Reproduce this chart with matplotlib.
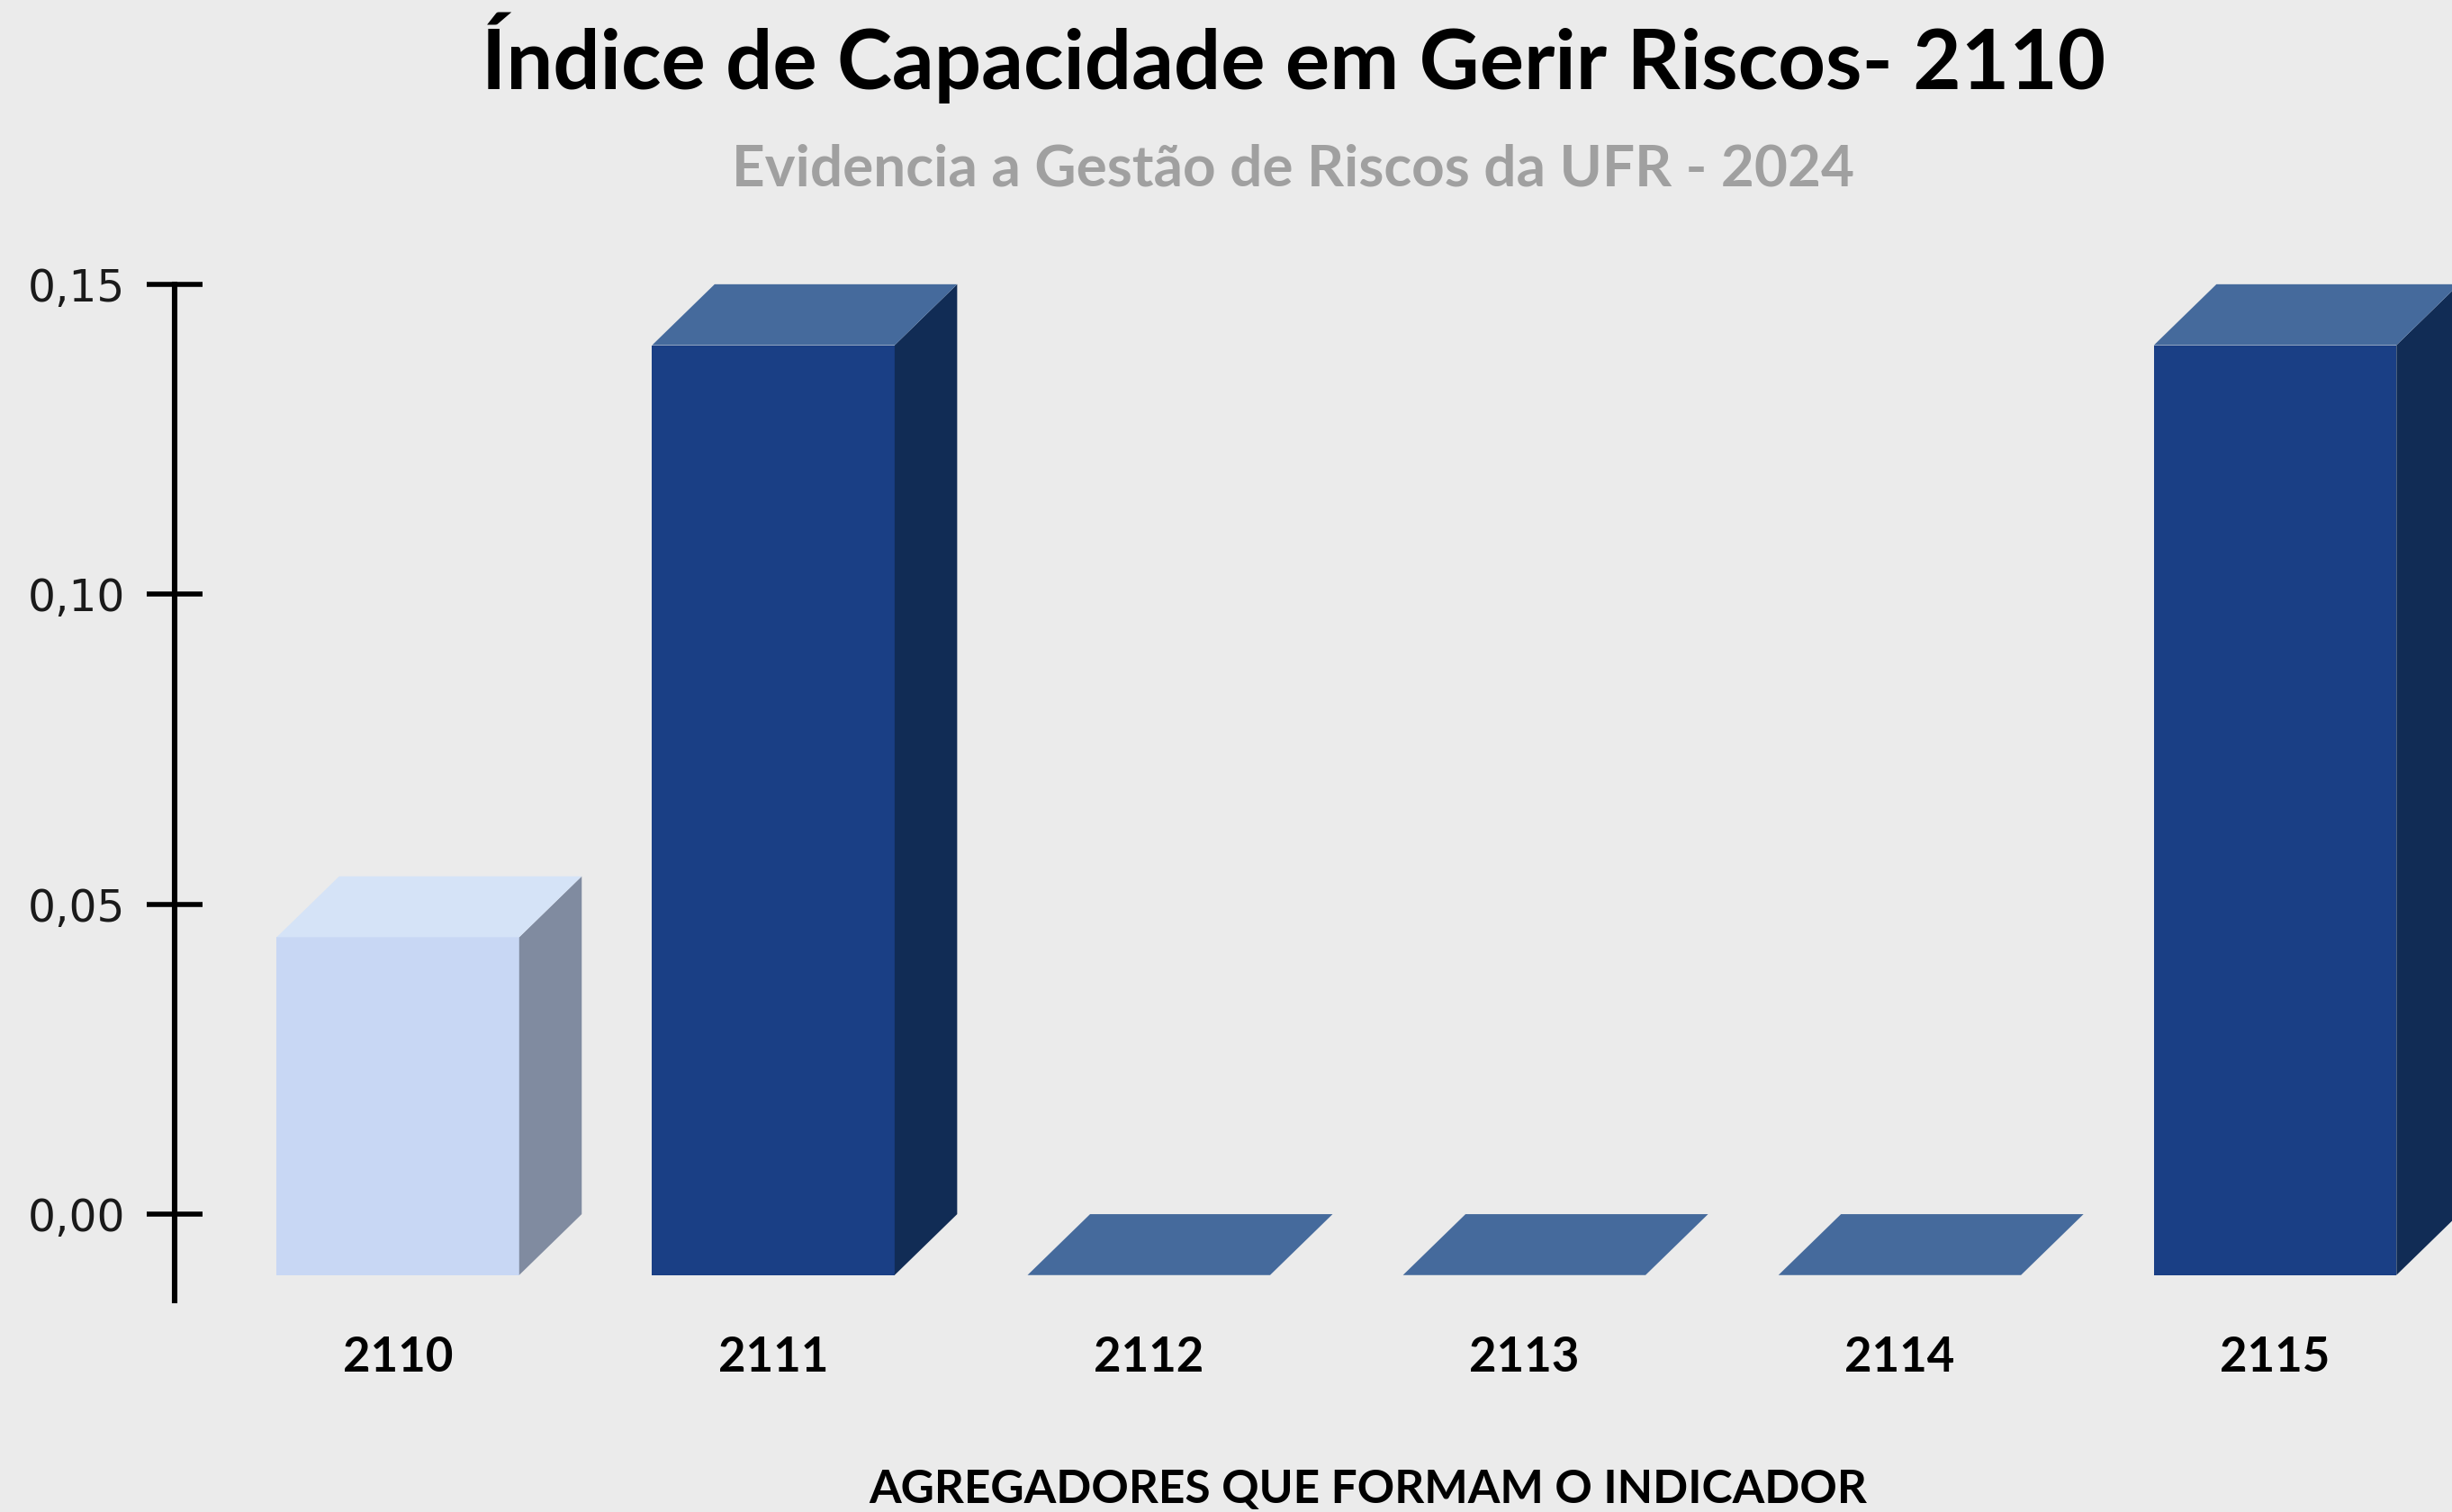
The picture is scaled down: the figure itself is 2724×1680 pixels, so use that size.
import matplotlib.pyplot as plt
from matplotlib.patches import Polygon
from matplotlib.ticker import FuncFormatter

categories = ['2110', '2111', '2112', '2113', '2114', '2115']
values = [0.0545, 0.15, 0.0, 0.0, 0.0, 0.15]
highlight = '2110'
yticks = [0.0, 0.05, 0.10, 0.15]

title = 'Índice de Capacidade em Gerir Riscos- 2110'
subtitle = 'Evidencia a Gestão de Riscos da UFR - 2024'
xlabel = 'AGREGADORES QUE FORMAM O INDICADOR'

bg = '#ebebeb'
# (front, top, side) colours
light = ('#c8d7f4', '#d5e3f7', '#808ba0')
dark = ('#1a3f85', '#456a9c', '#112c55')

bar_w = 0.646      # front face width, category units
depth_x = 0.1666   # 3d depth, category units
depth_y = 0.00983  # 3d depth, value units

fig = plt.figure(figsize=(13.62, 8.4), dpi=200, facecolor=bg)
ax = fig.add_axes([0.0714, 0.140, 0.9286, 0.672])
ax.set_facecolor(bg)

for i, (cat, v) in enumerate(zip(categories, values)):
    front, top, side = light if cat == highlight else dark
    x0 = i - bar_w / 2
    x1 = i + bar_w / 2
    y0 = -depth_y
    y1 = v - depth_y
    if v > 0:
        ax.add_patch(Polygon([(x0, y0), (x1, y0), (x1, y1), (x0, y1)],
                             closed=True, fc=front, lw=0, clip_on=False))
        ax.add_patch(Polygon([(x1, y0), (x1 + depth_x, 0), (x1 + depth_x, v), (x1, y1)],
                             closed=True, fc=side, lw=0, clip_on=False))
    ax.add_patch(Polygon([(x0, y1), (x1, y1), (x1 + depth_x, v), (x0 + depth_x, v)],
                         closed=True, fc=top, lw=0, clip_on=False))

ax.set_xlim(-0.5935, 5.471)
ax.set_ylim(-0.0139, 0.15)

for s in ['top', 'right', 'bottom']:
    ax.spines[s].set_visible(False)
ax.spines['left'].set_linewidth(2.2)
ax.spines['left'].set_color('black')

ax.set_yticks(yticks)
ax.yaxis.set_major_formatter(FuncFormatter(lambda v, p: f'{v:.2f}'.replace('.', ',')))
ax.tick_params(axis='y', direction='inout', length=22, width=2, color='black',
               pad=9, labelsize=17.5, labelcolor='#1a1a1a')
for lab in ax.get_yticklabels():
    lab.set_family('DejaVu Sans')

ax.set_xticks(range(len(categories)))
ax.set_xticklabels(categories, fontfamily='Lato', fontweight='bold', fontsize=19)
ax.tick_params(axis='x', length=0, pad=14)

fig.text(0.5275, 0.962, title, ha='center', va='center', fontfamily='Lato',
         fontweight='bold', fontsize=33.2, color='black')
fig.text(0.5275, 0.888, subtitle, ha='center', va='center', fontfamily='Lato',
         fontweight='bold', fontsize=23, color='#a0a0a0')
fig.text(0.558, 0.0145, xlabel, ha='center', va='center', fontfamily='Lato',
         fontweight='bold', fontsize=18.5, color='black')

fig.savefig('out.png', dpi=200, facecolor=bg)
